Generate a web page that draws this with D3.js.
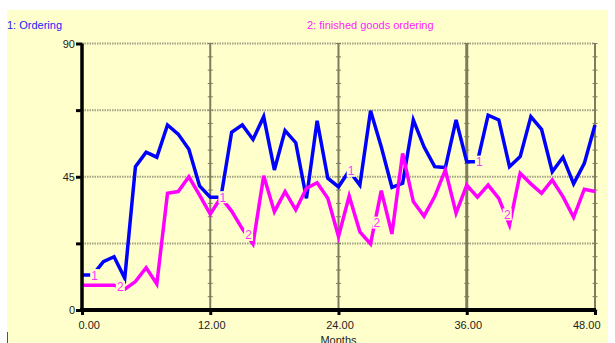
<!DOCTYPE html>
<meta charset="utf-8">
<script src="https://d3js.org/d3.v7.min.js"></script>
<style>
  body { margin: 0; background: #fff; }
  text { font-family: "Liberation Sans", Arial, sans-serif; }
</style>
<div id="chart"></div>
<script>

// months 0..48
var months = [0,1,2,3,4,5,6,7,8,9,10,11,12,13,14,15,16,17,18,19,20,21,22,23,24,
              25,26,27,28,29,30,31,32,33,34,35,36,37,38,39,40,41,42,43,44,45,46,47,48]

var ordering = [11.8,11.8,16.3,18.0,10.7,48.4,53.3,51.6,62.5,59.4,54.3,41.9,38.1,38.1,60.0,62.5,
                57.6,65.3,47.3,60.6,56.5,37.7,63.9,44.5,41.6,47.0,42.2,67.3,55.1,41.4,42.8,64.2,
                55.1,48.4,48.1,64.2,50.1,50.1,65.8,64.2,48.4,51.8,65.3,61.0,46.7,51.6,42.6,49.5,62.5]

var finished = [8.4,8.4,8.4,8.4,7.0,9.6,14.3,8.8,39.4,40.0,45.0,38.8,32.4,38.0,33.4,27.4,
                22.3,45.3,33.2,40.0,33.8,41.1,43.0,37.7,24.8,38.5,26.4,22.3,40.3,25.7,52.9,36.6,
                31.7,38.3,47.3,32.7,42.2,38.1,42.2,37.7,28.7,46.2,42.6,39.4,43.9,38.3,31.3,40.8,40.0]

var seriesNames = ["1: Ordering", "2: finished goods ordering"]
var yTicks = [0, 22.5, 45, 67.5, 90]
var yLabels = {0: "0", 45: "45", 90: "90"}
var xTicks = [0, 12, 24, 36, 48]
// where the little "1" / "2" markers sit on each curve (in months)
var label1At = [1, 13, 25, 37]
var label2At = [3.4, 15.4, 27.4, 39.6]

var width = 615, height = 343
var bg = "#ffffcc", gridCol = "#7d7d5e"

var svg = d3.select("#chart").append("svg")
    .attr("width", width)
    .attr("height", height)

svg.append("rect")
    .attr("x", 7).attr("y", 10)
    .attr("width", 601).attr("height", 333)
    .attr("fill", bg)

svg.append("line")
    .attr("x1", 7.5).attr("x2", 7.5).attr("y1", 332).attr("y2", 343)
    .attr("stroke", "#555").attr("stroke-width", 1)

var x = d3.scaleLinear().domain([0, 48]).range([82, 595])
var y = d3.scaleLinear().domain([0, 90]).range([310, 43.5])

// horizontal dotted grid
svg.selectAll(".hgrid")
  .data(yTicks.filter(function(d){ return d > 0 }))
  .enter().append("line")
    .attr("x1", x(0)).attr("x2", x(48))
    .attr("y1", function(d){ return y(d) }).attr("y2", function(d){ return y(d) })
    .attr("stroke", "#a3a385")
    .attr("stroke-width", 2)
    .attr("stroke-dasharray", "1.5,1")

// vertical grid
svg.selectAll(".vgrid")
  .data(xTicks.filter(function(d){ return d > 0 }))
  .enter().append("line")
    .attr("x1", function(d){ return x(d) }).attr("x2", function(d){ return x(d) })
    .attr("y1", y(90)).attr("y2", y(0))
    .attr("stroke", gridCol)
    .attr("stroke-width", function(d){ return d == 36 ? 3 : 2 })

// minor ticks on the vertical grid lines
var minor = d3.range(0, 90.1, 4.5)
xTicks.filter(function(d){ return d > 0 }).forEach(function(m) {
  svg.selectAll(null)
    .data(minor)
    .enter().append("line")
      .attr("x1", x(m) - 2.5).attr("x2", x(m) + 2.5)
      .attr("y1", function(d){ return y(d) }).attr("y2", function(d){ return y(d) })
      .attr("stroke", gridCol)
      .attr("stroke-width", 1)
})

var line = d3.line()
    .x(function(d){ return x(d[0]) })
    .y(function(d){ return y(d[1]) })

svg.append("path")
    .datum(d3.zip(months, ordering))
    .attr("fill", "none")
    .attr("stroke", "#0000ff")
    .attr("stroke-width", 3.5)
    .attr("d", line)

svg.append("path")
    .datum(d3.zip(months, finished))
    .attr("fill", "none")
    .attr("stroke", "#ff00ff")
    .attr("stroke-width", 3.5)
    .attr("d", line)

// curve labels, with a patch of background that cuts the lines
function interp(vals, t) {
  var i = Math.min(Math.floor(t), vals.length - 2), f = t - i
  return vals[i] + (vals[i + 1] - vals[i]) * f
}
function curveLabels(at, vals, txt) {
  at.forEach(function(t) {
    var cx = x(t) + 2, cy = y(interp(vals, t))
    svg.append("rect")
      .attr("x", cx - 4.5).attr("y", cy - 6)
      .attr("width", 9).attr("height", 12)
      .attr("fill", bg)
    svg.append("text")
      .attr("x", cx).attr("y", cy + 4.5)
      .attr("text-anchor", "middle")
      .style("font-size", "12px")
      .attr("fill", "#ff33ff")
      .text(txt)
  })
}
curveLabels(label1At, ordering, "1")
curveLabels(label2At, finished, "2")

// axes
var yAxis = svg.append("g")
    .attr("transform", "translate(" + x(0) + ",0)")
    .call(d3.axisLeft(y).tickValues(yTicks).tickSize(6).tickPadding(1)
      .tickFormat(function(d){ return yLabels[d] || "" }))
yAxis.select(".domain").attr("stroke", "#000").attr("stroke-width", 3.5)
    .attr("d", "M0," + y(90) + "V" + y(0))
yAxis.selectAll(".tick line").attr("stroke", "#000").attr("stroke-width", 3)
yAxis.selectAll(".tick text").style("font-size", "11px").attr("fill", "#222")
    .style("font-family", "'Liberation Sans', Arial, sans-serif")

var xAxis = svg.append("g")
    .attr("transform", "translate(0," + y(0) + ")")
    .call(d3.axisBottom(x).tickValues(xTicks).tickSize(5).tickPadding(6)
      .tickFormat(d3.format(".2f")))
xAxis.select(".domain").attr("stroke", "#000").attr("stroke-width", 4)
    .attr("d", "M" + (x(0) - 2) + ",0H" + (x(48) + 1))
xAxis.selectAll(".tick line").attr("stroke", "#000").attr("stroke-width", 3)
xAxis.selectAll(".tick text").style("font-size", "11px").attr("fill", "#222")
    .style("font-family", "'Liberation Sans', Arial, sans-serif")
    .attr("text-anchor", function(d){ return d == 0 ? "start" : d == 48 ? "end" : "middle" })
    .attr("dx", function(d){ return d == 0 ? -4 : d == 48 ? 5 : 1 })

// axis title sits on the bottom edge, partly cut, as in the original
svg.append("text")
    .attr("x", x(24)).attr("y", 344)
    .attr("text-anchor", "middle")
    .style("font-size", "11px")
    .attr("fill", "#222")
    .text("Months")

// legend
svg.append("text")
    .attr("x", 7).attr("y", 29)
    .style("font-size", "11px")
    .attr("fill", "#1a1aff")
    .text(seriesNames[0])

svg.append("text")
    .attr("x", 307).attr("y", 29)
    .style("font-size", "11px")
    .attr("fill", "#ff1aff")
    .text(seriesNames[1])

</script>
